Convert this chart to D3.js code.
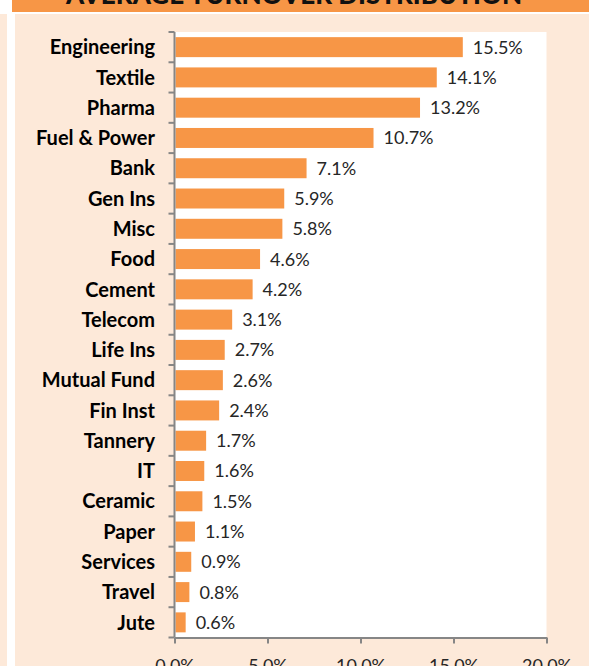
<!DOCTYPE html>
<html>
<head>
<meta charset="utf-8">
<script src="https://cdn.jsdelivr.net/npm/d3@7"></script>
<style>
  html, body { margin: 0; padding: 0; background: #fff; }
  svg { display: block; font-family: Lato, "Open Sans", sans-serif; }
</style>
</head>
<body>
<svg id="chart" width="589" height="666"></svg>
<script>
// data
const sectors = ["Engineering", "Textile", "Pharma", "Fuel & Power", "Bank", "Gen Ins", "Misc",
  "Food", "Cement", "Telecom", "Life Ins", "Mutual Fund", "Fin Inst", "Tannery", "IT",
  "Ceramic", "Paper", "Services", "Travel", "Jute"];
const shares = [15.5, 14.1, 13.2, 10.7, 7.1, 5.9, 5.8, 4.6, 4.2, 3.1, 2.7, 2.6, 2.4, 1.7, 1.6,
  1.5, 1.1, 0.9, 0.8, 0.6];
const xTicks = [0, 5, 10, 15, 20];
const title = "AVERAGE TURNOVER DISTRIBUTION";

const svg = d3.select("#chart");
const W = 589, H = 666;

// background panels
svg.append("rect").attr("width", W).attr("height", H).attr("fill", "#fde9d9");
svg.append("rect").attr("x", 7).attr("y", 12).attr("width", 8).attr("height", H - 12).attr("fill", "#fff");
svg.append("rect").attr("x", 0).attr("y", 0).attr("width", W).attr("height", 14).attr("fill", "#fff");
svg.append("rect").attr("x", 12).attr("y", 0).attr("width", W - 12).attr("height", 12).attr("fill", "#f79646");

// title sits mostly above the page edge, as in the reference
svg.append("text")
  .attr("x", 294).attr("y", 4)
  .attr("text-anchor", "middle")
  .attr("font-size", 26).attr("font-weight", 900)
  .attr("fill", "#111")
  .text(title);

const plot = {left: 174.5, right: 546.5, top: 32, bottom: 637.5};

svg.append("rect")
  .attr("x", plot.left).attr("y", plot.top)
  .attr("width", plot.right - plot.left).attr("height", plot.bottom - plot.top)
  .attr("fill", "#fff");

const x = d3.scaleLinear().domain([0, 20]).range([plot.left, plot.right]);
const y = d3.scaleBand().domain(sectors).range([plot.top, plot.bottom])
  .paddingInner(0.34).paddingOuter(0.17);

// bars
svg.append("g").selectAll("rect")
  .data(sectors)
  .join("rect")
  .attr("x", x(0) + 1)
  .attr("y", d => y(d))
  .attr("width", (d, i) => x(shares[i]) - x(0) - 1)
  .attr("height", y.bandwidth())
  .attr("fill", "#f79646");

// value labels
svg.append("g").selectAll("text")
  .data(sectors)
  .join("text")
  .attr("x", (d, i) => x(shares[i]) + 10)
  .attr("y", d => y(d) + y.bandwidth() / 2)
  .attr("dy", "0.36em")
  .attr("font-size", 18)
  .attr("fill", "#262626")
  .text((d, i) => shares[i].toFixed(1) + "%");

// category axis - ticks between categories
const axisColor = "#868686";
const yAxis = svg.append("g");
yAxis.append("line")
  .attr("x1", plot.left).attr("x2", plot.left)
  .attr("y1", plot.top).attr("y2", plot.bottom)
  .attr("stroke", axisColor).attr("stroke-width", 2);
const bounds = sectors.map(d => y(d) - y.step() * y.paddingInner() / 2).concat([plot.bottom]);
yAxis.selectAll("line.tick")
  .data(bounds)
  .join("line")
  .attr("class", "tick")
  .attr("x1", plot.left - 6).attr("x2", plot.left)
  .attr("y1", d => d).attr("y2", d => d)
  .attr("stroke", axisColor).attr("stroke-width", 2);
yAxis.selectAll("text")
  .data(sectors)
  .join("text")
  .attr("x", 155)
  .attr("y", d => y(d) + y.bandwidth() / 2)
  .attr("dy", "0.36em")
  .attr("text-anchor", "end")
  .attr("font-size", 20).attr("font-weight", "bold")
  .attr("fill", "#000")
  .text(d => d);

// value axis
const xAxis = svg.append("g")
  .attr("transform", `translate(0,${plot.bottom})`)
  .call(d3.axisBottom(x).tickValues(xTicks).tickSize(6).tickSizeOuter(0)
    .tickFormat(d => d.toFixed(1) + "%"));
xAxis.select(".domain").attr("stroke", axisColor).attr("stroke-width", 2);
xAxis.selectAll(".tick line").attr("stroke", axisColor).attr("stroke-width", 2);
xAxis.selectAll(".tick text")
  .attr("y", 22).attr("dy", "0.71em")
  .attr("font-family", "Lato, sans-serif")
  .attr("font-size", 18).attr("fill", "#262626");
</script>
</body>
</html>
